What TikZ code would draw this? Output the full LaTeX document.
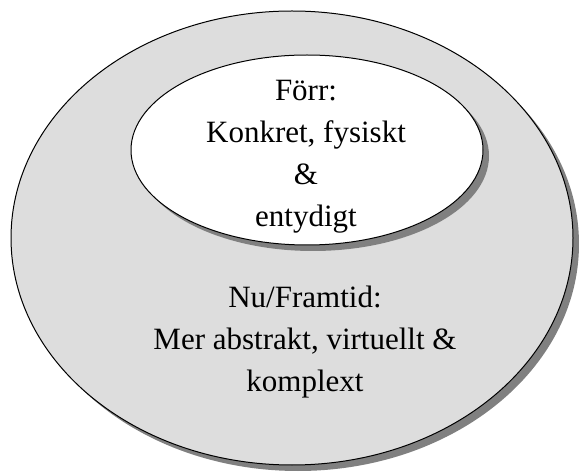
\documentclass[tikz,border=0pt]{standalone}
\usepackage{fontspec}
\setmainfont{Liberation Serif}
\usetikzlibrary{shapes.geometric,shadows}
\definecolor{fillgray}{HTML}{DDDDDD}
\definecolor{shadowgray}{HTML}{808080}
\begin{document}
\begin{tikzpicture}[x=1pt,y=1pt,
  blob/.style={ellipse, draw=black, line width=1pt, inner sep=0pt,
    drop shadow={shadow xshift=6pt, shadow yshift=-6pt, fill=shadowgray, opacity=1}},
  caption/.style={align=center, font=\fontsize{31}{42}\selectfont, inner sep=0pt}]
\useasboundingbox (0,0) rectangle (579,472);
% outer ellipse: present and future
\node[blob, fill=fillgray, minimum width=562, minimum height=454] (outer) at (292,234) {};
% inner ellipse: the past
\node[blob, fill=white, minimum width=352, minimum height=190] (inner) at (307,322) {};
\node[caption] (past) at (306,{472-157}) {Förr:\\Konkret, fysiskt\\\&\\entydigt};
\node[caption] (now) at (305,{472-342}) {Nu/Framtid:\\Mer abstrakt, virtuellt \&\\komplext};
\end{tikzpicture}
\end{document}
